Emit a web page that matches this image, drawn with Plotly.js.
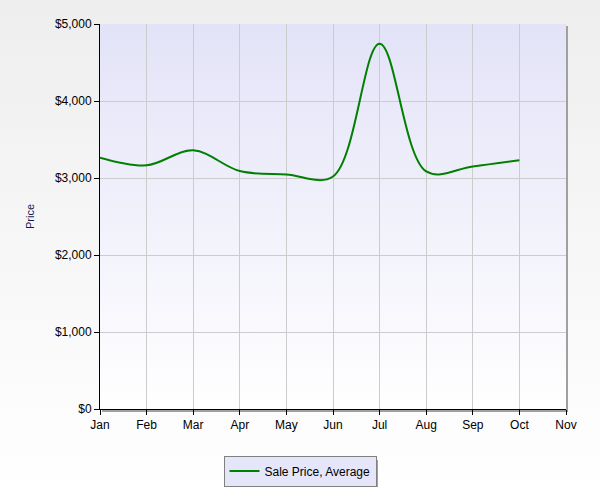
<!DOCTYPE html>
<html>
<head>
<meta charset="utf-8">
<script src="https://cdn.plot.ly/plotly-3.0.1.min.js"></script>
<style>
html,body{margin:0;padding:0;}
body{width:600px;height:500px;background:linear-gradient(to bottom,#eeeeee 0%,#fbfbfb 75%,#ffffff 100%);position:relative;overflow:hidden;}
#plotbg{position:absolute;left:100px;top:24px;width:466px;height:385px;background:linear-gradient(to bottom,#e3e3f8 0%,#ffffff 100%);}
#shadowR{position:absolute;left:566px;top:26px;width:2px;height:385px;background:#a0a0a0;}
#shadowB{position:absolute;left:102px;top:410px;width:466px;height:2px;background:#a0a0a0;}
#legshadow{position:absolute;left:228px;top:460px;width:150px;height:27px;background:#a0a0a0;}
#chart{position:absolute;left:0;top:0;width:600px;height:500px;}
</style>
</head>
<body>
<div id="plotbg"></div>
<div id="shadowR"></div>
<div id="shadowB"></div>
<div id="legshadow"></div>
<div id="chart"></div>
<script>
const months = ["Jan","Feb","Mar","Apr","May","Jun","Jul","Aug","Sep","Oct","Nov"];
const salePriceMonths = ["Jan","Feb","Mar","Apr","May","Jun","Jul","Aug","Sep","Oct"];
const salePriceAvg = [3265, 3165, 3360, 3090, 3045, 3020, 4745, 3085, 3150, 3230];
const yTickVals = [0, 1000, 2000, 3000, 4000, 5000];
const yTickText = ["$0","$1,000","$2,000","$3,000","$4,000","$5,000"];

const trace = {
  x: salePriceMonths,
  y: salePriceAvg,
  type: "scatter",
  mode: "lines",
  name: "Sale Price, Average",
  line: {color: "#008000", width: 2, shape: "spline", smoothing: 1}
};

const layout = {
  width: 600, height: 500,
  margin: {l: 100, r: 34, t: 24, b: 91, autoexpand: false},
  paper_bgcolor: "rgba(0,0,0,0)",
  plot_bgcolor: "rgba(0,0,0,0)",
  font: {family: "Liberation Sans, Arial, sans-serif", size: 12, color: "#000000"},
  showlegend: true,
  legend: {
    x: (300 - 100) / 466, xanchor: "center", y: (409 - 471) / 385, yanchor: "middle",
    bgcolor: "#e6e6fa", bordercolor: "#808080", borderwidth: 1,
    font: {size: 12, color: "#000000"}
  },
  xaxis: {
    type: "category",
    categoryorder: "array",
    categoryarray: months,
    range: [0, 10],
    showgrid: true, gridcolor: "#cccccc", gridwidth: 1,
    showline: true, linecolor: "#000000", linewidth: 1,
    ticks: "outside", ticklen: 5, tickcolor: "#000000",
    zeroline: false, fixedrange: true
  },
  yaxis: {
    range: [0, 5000],
    tickvals: yTickVals, ticktext: yTickText,
    showgrid: true, gridcolor: "#cccccc", gridwidth: 1,
    showline: true, linecolor: "#000000", linewidth: 1,
    ticks: "outside", ticklen: 5, tickcolor: "#000000",
    zeroline: false,
    title: {text: "Price", font: {size: 11, color: "#1a1a4a"}, standoff: 18}
  }
};

Plotly.newPlot("chart", [trace], layout, {displayModeBar: false, staticPlot: true});
</script>
</body>
</html>
